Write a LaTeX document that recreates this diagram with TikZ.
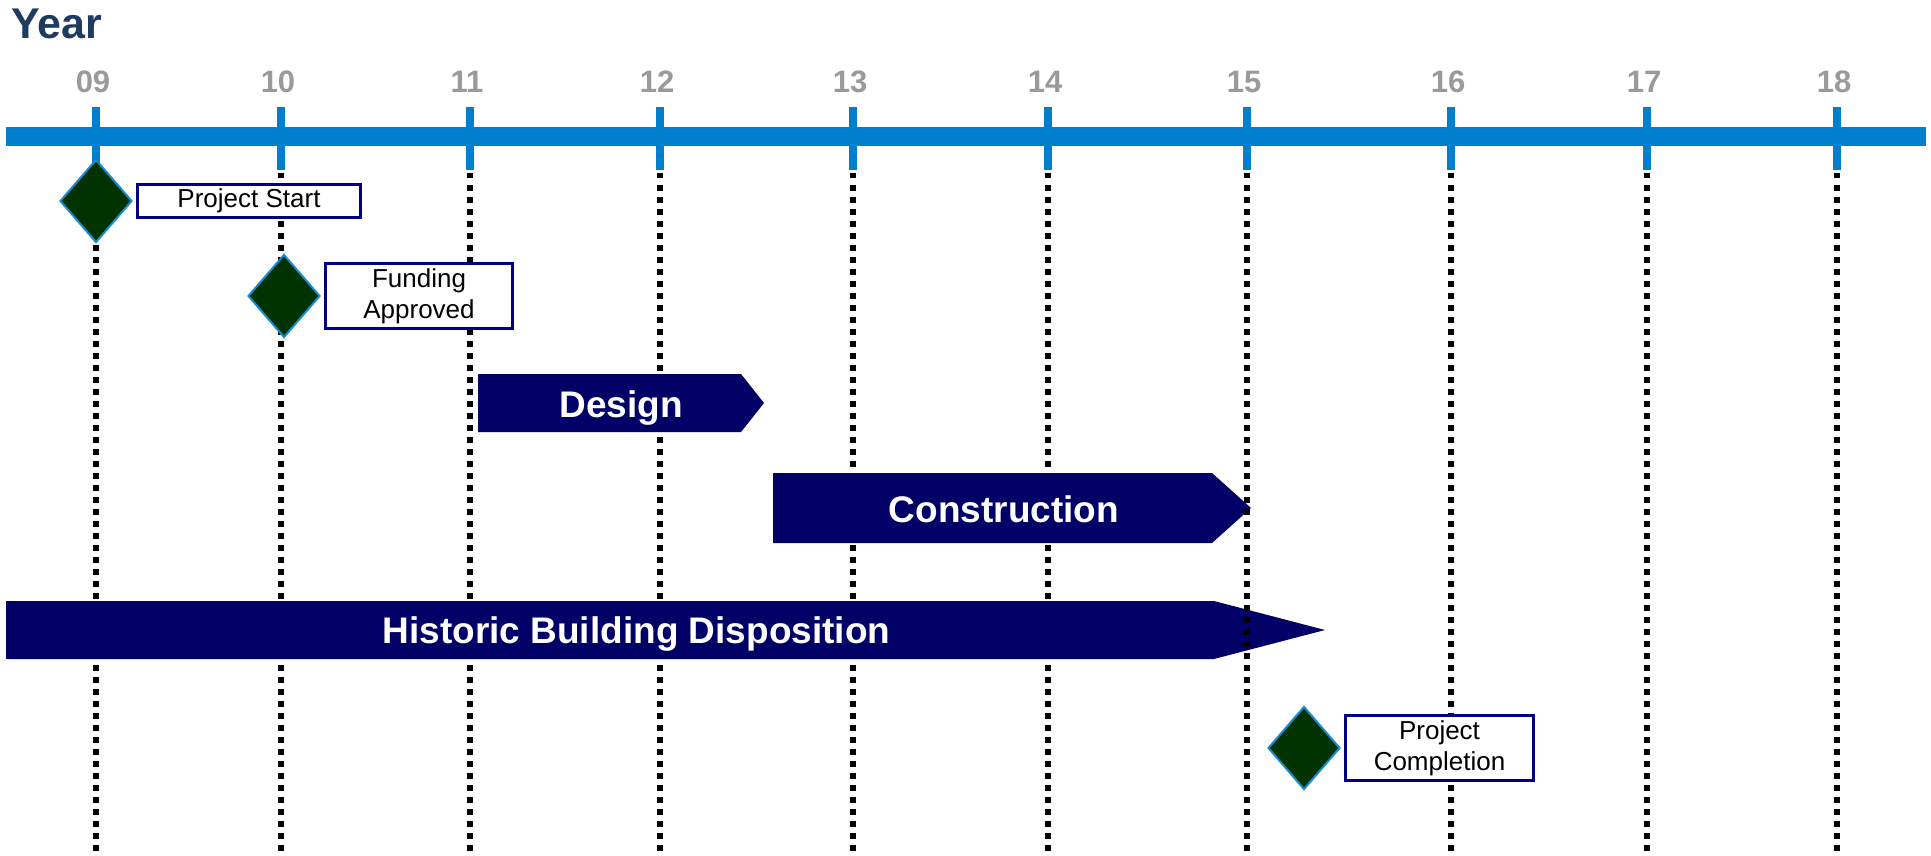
\documentclass[tikz,border=0pt]{standalone}
\usepackage{fontspec}
\setmainfont{Liberation Sans}
\usetikzlibrary{shapes.geometric,positioning}

\definecolor{axisblue}{HTML}{0080CC}
\definecolor{titleblue}{HTML}{1F3B5F}
\definecolor{yeargray}{HTML}{9A9A9A}
\definecolor{phasenavy}{HTML}{000066}
\definecolor{notenavy}{HTML}{000080}
\definecolor{stonegreen}{HTML}{003300}
\definecolor{stoneedge}{HTML}{1A8AD0}

\begin{document}
\begin{tikzpicture}[x=1pt,y=-1pt,node distance=3pt,
    milestone/.style={diamond,draw=stoneedge,fill=stonegreen,line width=2pt,inner sep=0pt,minimum width=72pt,minimum height=83pt},
    note/.style={draw=notenavy,line width=3pt,fill=white,align=center,inner sep=0pt,font=\fontsize{26}{31}\selectfont},
    yearlabel/.style={text=yeargray,inner sep=0pt,text height=22pt,text depth=0pt,font=\bfseries\fontsize{31}{36}\selectfont},
    tick/.style={draw=axisblue,line width=7.5pt},
    gridline/.style={draw=black,line width=5.5pt,dash pattern=on 5.5pt off 6.5pt},
    phase/.style={fill=phasenavy},
    phaselabel/.style={text=white,inner sep=0pt,text height=26.5pt,text depth=0pt,font=\bfseries\fontsize{37}{44}\selectfont}]
   \useasboundingbox (0,0) rectangle (1931,856);

   \node[anchor=base west,inner sep=0pt,text=titleblue,font=\bfseries\fontsize{43}{50}\selectfont] (title) at (11,39) {Year};

   % time axis
   \coordinate (axisL) at (6,136.5);
   \coordinate (axisR) at (1926,136.5);
   \draw[axisblue,line width=19pt] (axisL) -- (axisR);

   \foreach \x/\yr in {96/09,281/10,470/11,660/12,853/13,1048/14,1247/15,1451/16,1647/17,1837/18} {
      \node[yearlabel] (y\yr) at (\x-3,81.5) {\yr};
      \coordinate (top\yr) at (\x,107);
      \coordinate (bot\yr) at (\x,170);
      \coordinate (end\yr) at (\x,856);
      \draw[tick] (top\yr) -- (bot\yr);
   }
   \foreach \yr in {09,10,11,12,13,14,16,17,18}
      \draw[gridline] ([yshift=-3pt]bot\yr) -- (end\yr);

   % phases
   \fill[phase] (478,374) -- (741,374) -- (764,403) -- (741,432) -- (478,432) -- cycle;
   \node[phaselabel] (design) at (621,404) {Design};

   \fill[phase] (773,473) -- (1212,473) -- (1251,508) -- (1212,543) -- (773,543) -- cycle;
   \node[phaselabel] (construction) at (1004,509) {Construction};

   \fill[phase] (6,601) -- (1214,601) -- (1325,630) -- (1214,659) -- (6,659) -- cycle;
   \node[phaselabel] (disposition) at (636.5,630) {Historic Building Disposition};

   \draw[gridline] ([yshift=-3pt]bot15) -- (end15);

   % milestones
   \node[milestone] (start) at (96,201) {};
   \node[note,minimum width=223pt,minimum height=33pt] (startnote) [right=of start] {Project Start};

   \node[milestone] (funding) at (284,296) {};
   \node[note,minimum width=187pt,minimum height=65pt] (fundingnote) [right=of funding] {Funding\\Approved};

   \node[milestone] (completion) at (1304,748) {};
   \node[note,minimum width=188pt,minimum height=65pt] (completionnote) [right=of completion] {Project\\Completion};
\end{tikzpicture}
\end{document}
